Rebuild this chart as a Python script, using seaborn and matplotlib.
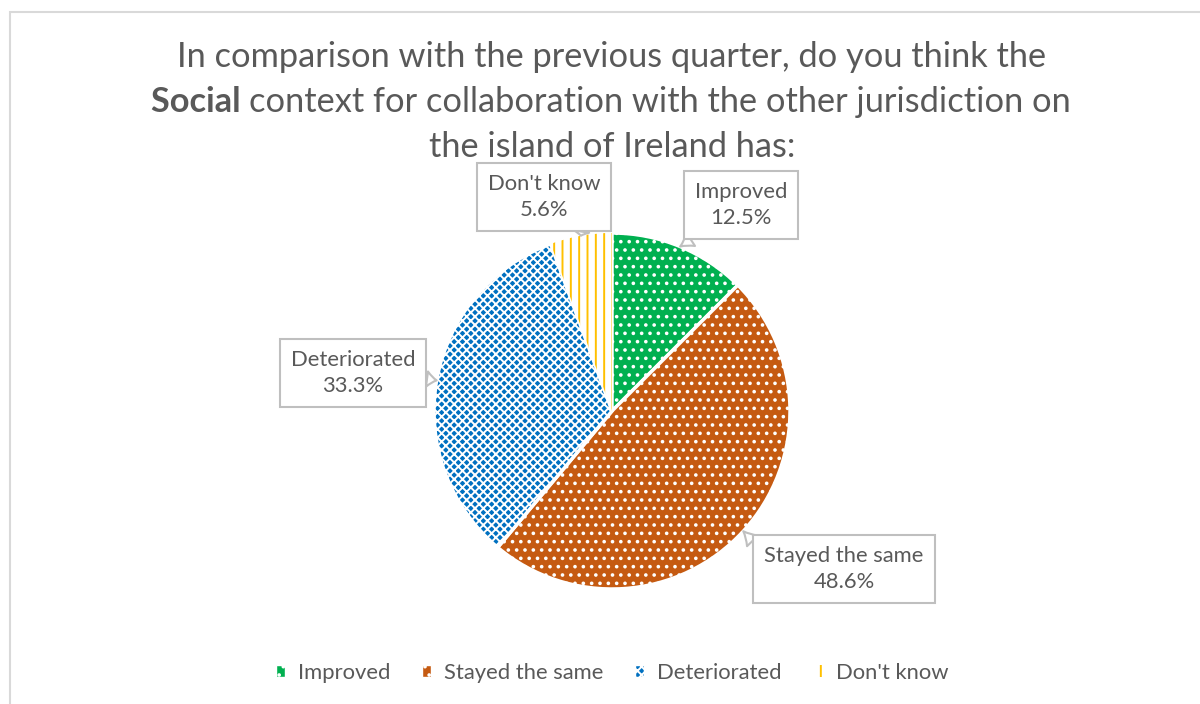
"""
Pie chart: social context for cross-border collaboration (quarter comparison)
"""

import numpy as np
import matplotlib
matplotlib.use('Agg')  # no display
import matplotlib.pyplot as plt
import seaborn as sns
from matplotlib.patches import Patch, Rectangle

# Data
categories = ['Improved', 'Stayed the same', 'Deteriorated', "Don't know"]
shares = [12.5, 48.6, 33.3, 5.6]
title_lines = ['In comparison with the previous quarter, do you think the',
               'context for collaboration with the other jurisdiction on',
               'the island of Ireland has:']
title_bold = 'Social'

# Style
colors = ['#00B050', '#C55A11', '#0070C0', '#FFC000']
hatches = ['..', '..', 'xxxx', '||']
text_grey = '#595959'
box_grey = '#BFBFBF'

sns.set_theme(style='white')
plt.rcParams['font.family'] = ['Lato', 'DejaVu Sans']
plt.rcParams['hatch.linewidth'] = 1.4

W, H = 1200, 704
fig = plt.figure(figsize=(12, 7.04), dpi=100)
fig.patch.set_facecolor('white')


def fx(x):
    return x / W


def fy(y):
    return 1 - y / H


renderer = fig.canvas.get_renderer()


def fit_size(txt, target_px, weight='normal'):
    t = fig.text(0, 0, txt, fontsize=10, weight=weight)
    w = t.get_window_extent(renderer).width
    t.remove()
    return 10 * target_px / w


# chart border (only top/left visible in the crop)
fig.patches.append(Rectangle((fx(10), -0.2), 1.2, fy(12) + 0.2, transform=fig.transFigure,
                             fill=False, edgecolor='#D9D9D9', linewidth=1.5))

# 1. Pie
cx, cy, r = 612, 411, 178
ax = fig.add_axes([fx(cx - r), fy(cy + r), 2 * r / W, 2 * r / H])
wedges, _ = ax.pie(shares, startangle=90, counterclock=False, radius=1,
                   wedgeprops=dict(linewidth=2.5, edgecolor='white'))
ax.set_xlim(-1, 1)
ax.set_ylim(-1, 1)
ax.axis('off')


def style_patch(p, i):
    # "Don't know" = yellow stripes on white, others = white pattern on colour
    if i == 3:
        p.set_facecolor('white')
        p.set_edgecolor(colors[i])  # hatch takes the edge colour
        p.set_linewidth(0)
    else:
        p.set_facecolor(colors[i])
        p.set_edgecolor('white')
    p.set_hatch(hatches[i])


for i, w in enumerate(wedges):
    style_patch(w, i)

# 2. Data labels (callouts)
label_fs = fit_size('Deteriorated', 125)
label_pos = [(741, 205), (844, 569), (353, 373), (544, 197)]
callout_rel = [(0.15, 0.0), (0.0, 0.85), (1.0, 0.4), (0.85, 0.0)]
for i, w in enumerate(wedges):
    mid = np.deg2rad((w.theta1 + w.theta2) / 2)
    tip = (np.cos(mid), np.sin(mid))
    px, py = label_pos[i]
    ax.annotate(f"{categories[i]}\n{shares[i]:.1f}%", xy=tip,
                xytext=(fx(px), fy(py)), textcoords='figure fraction',
                ha='center', va='center', fontsize=label_fs, color=text_grey,
                linespacing=1.35, annotation_clip=False,
                bbox=dict(boxstyle='square,pad=0.5', fc='white', ec=box_grey, lw=1.5),
                arrowprops=dict(arrowstyle='wedge,tail_width=0.7,shrink_factor=0.4',
                                fc='white', ec=box_grey, lw=1.5,
                                relpos=callout_rel[i], shrinkA=0, shrinkB=0))

# 3. Title (with bold "Social")
title_fs = fit_size(title_lines[0], 872)
baselines = [67, 112, 157]
fig.text(fx(612), fy(baselines[0]), title_lines[0], fontsize=title_fs, color=text_grey,
         ha='center', va='baseline')
tb = fig.text(0, fy(baselines[1]), title_bold + ' ', fontsize=title_fs, color=text_grey,
              weight='bold', ha='left', va='baseline')
tr = fig.text(0, fy(baselines[1]), title_lines[1], fontsize=title_fs, color=text_grey,
              ha='left', va='baseline')
wb = tb.get_window_extent(renderer).width
wr = tr.get_window_extent(renderer).width
x0 = 611 - (wb + wr) / 2
tb.set_x(fx(x0))
tr.set_x(fx(x0 + wb))
fig.text(fx(612), fy(baselines[2]), title_lines[2], fontsize=title_fs, color=text_grey,
         ha='center', va='baseline')

# 4. Legend
handles = []
for i in range(4):
    p = Patch()
    style_patch(p, i)
    handles.append(p)
fig.legend(handles, categories, loc='center', bbox_to_anchor=(fx(612), fy(673)),
           ncol=4, frameon=False, fontsize=label_fs, labelcolor=text_grey,
           handlelength=0.4, handleheight=0.45, handletextpad=0.6, columnspacing=1.45)

fig.savefig('out.png', dpi=100)
print("saved out.png")
